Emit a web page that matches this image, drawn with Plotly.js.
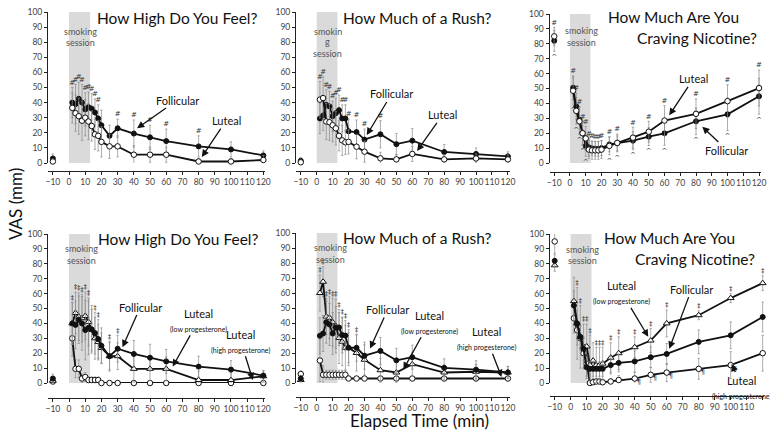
<!DOCTYPE html>
<html><head><meta charset="utf-8">
<script src="https://cdn.plot.ly/plotly-3.0.1.min.js"></script>
<style>html,body{margin:0;padding:0;background:#fff}#chart{width:770px;height:432px}</style>
</head><body><div id="chart"></div>
<script>
// ---------- data ----------
const times = [-10, 2, 4, 6, 8, 10, 12, 14, 16, 18, 20, 25, 30, 40, 50, 60, 80, 100, 120];
const xTicks = [-10, 0, 10, 20, 30, 40, 50, 60, 70, 80, 90, 100, 110, 120];
const yTicks = [0, 10, 20, 30, 40, 50, 60, 70, 80, 90, 100];

// Top row: menstrual phase
const highFol    = [3, 40, 39, 42.5, 40, 35.5, 37, 36, 33.5, 29.5, 25, 18, 23, 19.5, 17, 14.5, 11, 9, 5];
const highFolErr = [3, 10, 13, 11, 12, 11, 10, 10, 9, 9, 10, 7, 6, 9, 8, 8, 7, 5, 3];
const highLut    = [1, 36.5, 33, 31, 28, 30, 27.5, 24.5, 19, 18, 14, 11, 11, 5.5, 5.5, 5.5, 1, 1, 2];
const highLutErr = [2, 10, 12, 12, 13, 12, 12, 10, 10, 10, 10, 8, 7, 6, 5, 5, 2, 2, 3];
const highHash   = [2, 4, 6, 8, 10, 12, 14, 16, 18, 30, 40, 50, 60, 80];

const rushFol    = [1.5, 29.5, 31.5, 38.5, 37.5, 31, 33, 35, 29.5, 29.5, 21, 20.5, 15.5, 19, 12.5, 14.8, 7.3, 6, 4.4];
const rushFolErr = [2, 10, 10, 10, 10, 10, 10, 10, 9, 9, 8, 8, 7, 9, 7, 8, 5, 4, 3];
const rushLut    = [0.5, 42, 43, 27.5, 27, 25, 23, 18, 15, 13.7, 14, 10.8, 7.5, 3.1, 2.4, 6, 2.4, 3, 2.4];
const rushLutErr = [2, 12, 14, 12, 12, 11, 11, 10, 10, 8, 8, 8, 7, 4, 3, 5, 3, 3, 3];
const rushHash   = [2, 4, 6, 8, 10, 12, 14, 16, 18, 20, 25, 30, 40];

const cravFol    = [82, 50.5, 38, 29, 20, 11.5, 10.5, 9.8, 9.5, 9.5, 10, 12.5, 13.2, 15, 17.7, 19.9, 28, 32.7, 44.8];
const cravFolErr = [7, 8, 9, 9, 8, 7, 6, 5, 5, 5, 5, 5, 5, 6, 6, 8, 9, 11, 12];
const cravLut    = [85, 48.5, 35, 28, 20, 16.5, 9, 8.5, 8.5, 8.5, 9, 11.5, 13.5, 17, 21, 28.5, 33, 41.5, 50.3];
const cravLutErr = [6, 9, 9, 9, 8, 8, 6, 6, 6, 6, 6, 6, 6, 7, 7, 10, 10, 11, 12];
const cravHash   = [-10, 2, 4, 6, 8, 10, 12, 14, 16, 18, 20, 25, 30, 40, 50, 60, 80, 100, 120];
const cravCaret  = [-10, 2, 4, 6, 8, 10, 12, 14, 16, 18, 20, 25, 30, 40, 50, 60, 80, 100, 120];

// Bottom row: luteal split by progesterone
const highFolErr2  = [3, 14, 16, 16, 18, 20, 18, 16, 14, 13, 12, 10, 9, 9, 9, 8, 7, 6, 3];
const highLowP     = [1.5, 40, 47, 44.5, 43.5, 45, 41, 35.5, 30, 27.5, 23.5, 18, 18, 9.5, 9.5, 9.5, 2, 2, 4.5];
const highLowPErr  = [2, 14, 14, 16, 16, 16, 16, 14, 14, 12, 10, 9, 9, 9, 8, 8, 6, 5, 4];
const highHighP    = [1, 30, 9.5, 9.5, 3, 4, 2, 2, 2, 2, 0, 0, 0, 0, 0, 0, 0, 0, 0];
const highHighPErr = [2, 12, 6, 6, 3, 3, 2, 2, 2, 2, 0.5, 0.5, 0.5, 0.5, 0.5, 0.5, 0.5, 0.5, 0.5];
const highDagger   = [2, 4, 6, 8, 10, 12, 16, 18, 25, 30];

const rushFol2     = [3, 31.5, 33, 40.5, 39, 33, 37, 37, 32, 31.6, 23.5, 23.5, 18.2, 21.4, 15.1, 17.2, 10.1, 8.9, 7.1];
const rushFol2Err  = [2, 12, 12, 14, 14, 14, 14, 12, 12, 10, 10, 9, 9, 9, 8, 8, 6, 6, 4];
const rushLowP     = [2, 60, 67.5, 44.3, 43.5, 40.5, 38, 30, 27.5, 23.5, 23.5, 20, 15.5, 8.5, 7, 12.5, 7, 7.5, 7];
const rushLowPErr  = [3, 12, 10, 12, 14, 16, 18, 17, 16, 15, 12, 12, 10, 8, 7, 8, 5, 5, 4];
const rushHighP    = [6, 15, 5.5, 5.5, 5.5, 5.5, 5.5, 5.5, 5.5, 5.5, 3, 3, 3, 3, 3, 3, 3, 3, 3];
const rushHighPErr = [2, 14, 6, 3, 3, 3, 3, 3, 3, 3, 1, 1, 1, 1, 1, 1, 1, 1, 1];
const rushDagger   = [2, 4, 6, 8, 10, 12, 14, 16, 18, 20, 25];

const cravFol2     = [82, 52, 40, 31, 23, 10.5, 9.5, 9.5, 9.5, 9.5, 9.5, 12, 13.5, 14.5, 17.3, 19.5, 27.6, 32, 44.3];
const cravFol2Err  = [4, 10, 9, 8, 8, 6, 5, 5, 5, 5, 5, 6, 6, 7, 7, 7, 8, 9, 10];
const cravLowP     = [79, 55, 40, 31, 24.5, 24.5, 12, 15, 12, 12, 13, 17, 20, 24, 28.5, 40, 45.5, 57, 67];
const cravLowPErr  = [4, 16, 24, 21, 15, 15, 20, 12, 12, 12, 11, 10, 11, 7, 8, 9, 3, 3, 5];
const cravHighP    = [95, 43.5, 35.5, 30, 20, 13, 0, 0.5, 1, 1, 0.5, 1, 2, 3, 5.5, 7, 9.5, 12, 20];
const cravHighPErr = [8, 10, 10, 8, 10, 10, 6, 2, 2, 2, 2, 2, 3, 4, 5, 6, 7, 9, 12];
const cravDagger   = [4, 6, 8, 10, 12, 16, 18, 20, 25, 30, 40, 50, 60, 80, 100, 120];
const cravPilcrow  = [8, 12, 14, 16, 18, 20, 25, 30, 40, 50, 60, 80, 100];

const smokeStart = 0, smokeEnd = 13;

// ---------- layout helpers ----------
const FONT = 'Lato, "Open Sans", "DejaVu Sans", sans-serif';
const W = 770, H = 432;
const px = v => v / W, py = v => 1 - v / H;
const SMALL = '<span style="font-size:7px">';

const panels = [
  { xd: [48, 265], yd: [163, 12], xpos: 171,
    series: [{y: highFol, e: highFolErr, k: 'fill'}, {y: highLut, e: highLutErr, k: 'open'}],
    top: {t: highHash, ch: '#'},
    titles: [['How High Do You Feel?', 67, 96]],
    smoke: [['smoking', 6.8, 87.4], ['session', 6.8, 80]],
    labels: [{t: 'Follicular', x: 42, y: 23, ax: 67, ay: 41.7}, {t: 'Luteal', x: 82, y: 4, ax: 97, ay: 28}] },
  { xd: [296, 509.5], yd: [163, 12], xpos: 171,
    series: [{y: rushFol, e: rushFolErr, k: 'fill'}, {y: rushLut, e: rushLutErr, k: 'open'}],
    top: {t: rushHash, ch: '#'},
    titles: [['How Much of a Rush?', 62.8, 96]],
    smoke: [['smokin', 6.9, 87.4], ['g', 6.9, 80.3], ['session', 6.9, 72.6]],
    labels: [{t: 'Follicular', x: 31.4, y: 18.5, ax: 47, ay: 45.7}, {t: 'Luteal', x: 63, y: 8, ax: 79, ay: 31.8}] },
  { xd: [549.5, 760.6], yd: [163, 14], xpos: 172,
    series: [{y: cravFol, e: cravFolErr, k: 'fill'}, {y: cravLut, e: cravLutErr, k: 'open'}],
    top: {t: cravHash, ch: '#'}, bottom: {t: cravCaret, ch: '^'},
    titles: [['How Much Are You', 65.4, 98], ['Craving Nicotine?', 80.4, 83.7]],
    smoke: [['smoking', 7.4, 88.6], ['session', 7.4, 81]],
    labels: [{t: 'Luteal', x: 63, y: 32, ax: 78.3, ay: 56.4}, {t: 'Follicular', x: 84, y: 24.4, ax: 99.5, ay: 8.7}] },
  { xd: [48, 265], yd: [383, 234], xpos: 398,
    series: [{y: highHighP, e: highHighPErr, k: 'open'}, {y: highLowP, e: highLowPErr, k: 'tri'}, {y: highFol, e: highFolErr2, k: 'fill'}],
    top: {t: highDagger, ch: '‡'},
    titles: [['How High Do You Feel?', 67.7, 96.6]],
    smoke: [['smoking', 7.8, 90.4], ['session', 7.8, 82.5]],
    labels: [{t: 'Follicular', x: 33, y: 24, ax: 44, ay: 51},
             {t: 'Luteal<br>' + SMALL + '(low progesterone)</span>', x: 64, y: 11, ax: 80, ay: 42},
             {t: 'Luteal<br>' + SMALL + '(high progesterone)</span>', x: 113.5, y: 2, ax: 106, ay: 28}] },
  { xd: [296, 509.5], yd: [383, 233], xpos: 397,
    series: [{y: rushHighP, e: rushHighPErr, k: 'open'}, {y: rushLowP, e: rushLowPErr, k: 'tri'}, {y: rushFol2, e: rushFol2Err, k: 'fill'}],
    top: {t: rushDagger, ch: '‡'},
    titles: [['How Much of a Rush?', 62.8, 96.6]],
    smoke: [['smoking', 8.4, 90.6], ['session', 8.4, 82.5]],
    labels: [{t: 'Follicular', x: 33.5, y: 23, ax: 44.6, ay: 49},
             {t: 'Luteal<br>' + SMALL + '(low progesterone)</span>', x: 54.4, y: 9, ax: 70.7, ay: 40.5},
             {t: 'Luteal<br>' + SMALL + '(high progesterone)</span>', x: 116, y: 4, ax: 106.7, ay: 29.5}] },
  { xd: [549.9, 764.3], yd: [383, 234], xpos: 396,
    series: [{y: cravHighP, e: cravHighPErr, k: 'open'}, {y: cravLowP, e: cravLowPErr, k: 'tri'}, {y: cravFol2, e: cravFol2Err, k: 'fill'}],
    top: {t: cravDagger, ch: '‡'}, pil: {t: cravPilcrow, ch: '¶', s: 0},
    titles: [['How Much Are You', 62, 97], ['Craving Nicotine?', 77.7, 83]],
    smoke: [['smoking', 7.5, 89.7], ['session', 7.5, 81.9]],
    labels: [{t: 'Luteal<br>' + SMALL + '(low progesterone)</span>', x: 48.5, y: 31, ax: 32, ay: 60.5},
             {t: 'Follicular', x: 61.6, y: 23, ax: 75.6, ay: 63},
             {t: 'Luteal<br>' + SMALL + '(high progesterone)</span>', x: 100.6, y: 12.7, ax: 107, ay: -2.7}] }
];

function markerFor(k) {
  if (k === 'fill') return {symbol: 'circle', size: 5, color: '#111', line: {color: '#111', width: 1}};
  if (k === 'tri') return {symbol: 'triangle-up', size: 6, color: '#fff', line: {color: '#111', width: 1}};
  return {symbol: 'circle', size: 5.5, color: '#fff', line: {color: '#111', width: 1}};
}

const traces = [], shapes = [], annotations = [];
const layout = {
  width: W, height: H, margin: {l: 0, r: 0, t: 0, b: 0},
  paper_bgcolor: '#fff', plot_bgcolor: 'rgba(0,0,0,0)', showlegend: false,
  font: {family: FONT, color: '#222'}
};
const ERR = {type: 'data', visible: true, color: '#8a8a8a', thickness: 0.7, width: 1.2};

panels.forEach((p, i) => {
  const n = i + 1, sfx = n === 1 ? '' : String(n);
  const xa = 'x' + sfx, ya = 'y' + sfx;
  layout['xaxis' + sfx] = {
    domain: [px(p.xd[0]), px(p.xd[1])], range: [-13, 121], anchor: 'free', position: py(p.xpos),
    tickvals: xTicks, tickangle: 0, showline: true, linecolor: '#222', linewidth: 1, ticks: 'outside', ticklen: 3,
    tickcolor: '#222', tickfont: {family: FONT, size: 8.5, color: '#444'}, showgrid: false, zeroline: false
  };
  layout['yaxis' + sfx] = {
    domain: [py(p.yd[0]), py(p.yd[1])], range: [0, 100], anchor: xa,
    tickvals: yTicks, showline: true, linecolor: '#222', linewidth: 1, ticks: 'outside', ticklen: 3,
    tickcolor: '#222', tickfont: {family: FONT, size: 8.5, color: '#444'}, showgrid: false, zeroline: false
  };
  shapes.push({type: 'rect', xref: xa, yref: ya, x0: smokeStart, x1: smokeEnd, y0: 0, y1: 100,
    fillcolor: '#dadada', line: {width: 0}, layer: 'below'});

  p.series.forEach(s => {
    const common = {xaxis: xa, yaxis: ya, cliponaxis: false, hoverinfo: 'skip', marker: markerFor(s.k)};
    traces.push(Object.assign({}, common, {
      x: times.slice(1), y: s.y.slice(1), mode: 'lines+markers',
      line: {color: '#111', width: 1.8},
      error_y: Object.assign({array: s.e.slice(1)}, ERR)
    }));
    traces.push(Object.assign({}, common, {
      x: times.slice(0, 1), y: s.y.slice(0, 1), mode: 'markers',
      error_y: Object.assign({array: s.e.slice(0, 1)}, ERR)
    }));
  });

  const idx = t => times.indexOf(t);
  const markFont = {family: '"DejaVu Sans", sans-serif', size: 7, color: '#333'};
  if (p.top) {
    const ys = p.top.t.map(t => Math.max(...p.series.map(s => s.y[idx(t)] + s.e[idx(t)])) + 3);
    traces.push({x: p.top.t, y: ys, xaxis: xa, yaxis: ya, mode: 'text', text: p.top.t.map(() => p.top.ch),
      textfont: markFont, cliponaxis: false, hoverinfo: 'skip'});
  }
  if (p.bottom) {
    const ys = p.bottom.t.map(t => Math.min(...p.series.map(s => s.y[idx(t)] - s.e[idx(t)])) - 4);
    traces.push({x: p.bottom.t, y: ys, xaxis: xa, yaxis: ya, mode: 'text', text: p.bottom.t.map(() => p.bottom.ch),
      textfont: markFont, cliponaxis: false, hoverinfo: 'skip'});
  }
  if (p.pil) {
    const s = p.series[p.pil.s];
    traces.push({x: p.pil.t.map(t => t + 2.5), y: p.pil.t.map(t => s.y[idx(t)] - 2.5), xaxis: xa, yaxis: ya,
      mode: 'text', text: p.pil.t.map(() => p.pil.ch),
      textfont: markFont, cliponaxis: false, hoverinfo: 'skip'});
  }

  p.titles.forEach(t => annotations.push({xref: xa, yref: ya, x: t[1], y: t[2], text: t[0], showarrow: false,
    font: {family: FONT, size: 15.5, color: '#111'}, xanchor: 'center', yanchor: 'middle'}));
  p.smoke.forEach(t => annotations.push({xref: xa, yref: ya, x: t[1], y: t[2], text: t[0], showarrow: false,
    font: {family: FONT, size: 9, color: '#555'}, xanchor: 'center', yanchor: 'middle'}));
  p.labels.forEach(l => annotations.push({xref: xa, yref: ya, x: l.x, y: l.y, axref: xa, ayref: ya, ax: l.ax, ay: l.ay,
    text: l.t, showarrow: true, arrowhead: 2, arrowsize: 1.1, arrowwidth: 1.3, arrowcolor: '#111',
    font: {family: FONT, size: 11, color: '#111'}, align: 'center'}));
});

annotations.push({xref: 'paper', yref: 'paper', x: px(15), y: py(204), xanchor: 'center', yanchor: 'middle',
  text: 'VAS (mm)', textangle: -90, showarrow: false, font: {family: FONT, size: 17, color: '#111'}});
annotations.push({xref: 'paper', yref: 'paper', x: px(419), y: py(420), xanchor: 'center', yanchor: 'middle',
  text: 'Elapsed Time (min)', showarrow: false, font: {family: FONT, size: 17, color: '#111'}});

layout.shapes = shapes;
layout.annotations = annotations;

Plotly.newPlot('chart', traces, layout, {displayModeBar: false, staticPlot: true});
</script></body></html>
